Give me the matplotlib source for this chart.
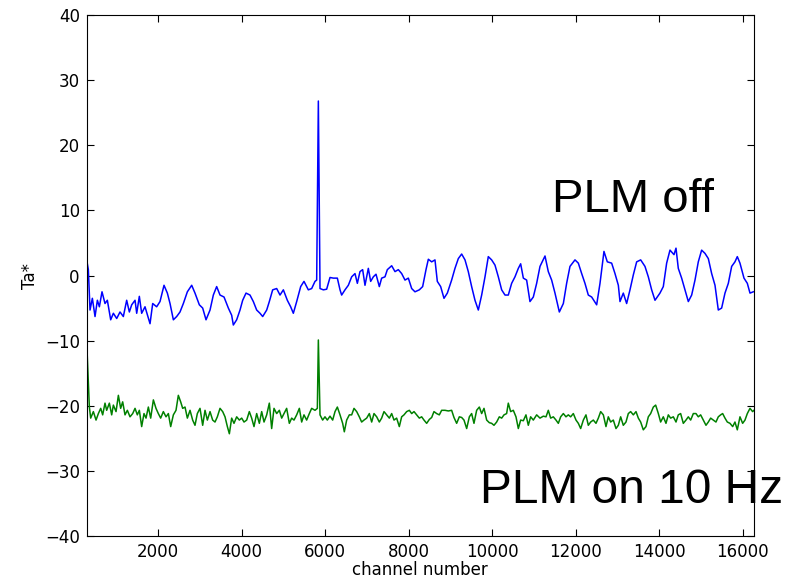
import matplotlib
matplotlib.use("Agg")
import matplotlib.pyplot as plt

# PLM off spectrum (blue)
blue_ch = [300, 332, 372, 428, 492, 548, 596, 659, 731, 787, 867, 931, 1011, 1090, 1170,
           1250, 1314, 1370, 1450, 1490, 1553, 1609, 1689, 1809, 1873, 1968, 2048, 2144,
           2224, 2288, 2368, 2447, 2527, 2607, 2703, 2807, 2886, 2990, 3070, 3150, 3246,
           3325, 3405, 3485, 3581, 3685, 3764, 3804, 3884, 3964, 4028, 4108, 4203, 4283,
           4363, 4443, 4507, 4603, 4666, 4746, 4842, 4922, 5002, 5097, 5177, 5241, 5321,
           5417, 5496, 5600, 5680, 5760, 5800, 5840, 5880, 5960, 6039, 6119, 6199, 6295,
           6359, 6398, 6478, 6558, 6638, 6718, 6774, 6837, 6901, 6957, 7037, 7093, 7157,
           7221, 7300, 7356, 7436, 7492, 7596, 7676, 7755, 7835, 7915, 7995, 8075, 8154,
           8258, 8338, 8418, 8474, 8554, 8633, 8689, 8769, 8849, 8929, 9032, 9112, 9192,
           9272, 9352, 9431, 9511, 9591, 9671, 9751, 9831, 9910, 9990, 10070, 10150, 10230,
           10310, 10389, 10469, 10549, 10629, 10685, 10749, 10828, 10908, 10988, 11068,
           11148, 11268, 11347, 11427, 11507, 11611, 11707, 11786, 11866, 11986, 12066,
           12146, 12225, 12305, 12385, 12505, 12585, 12680, 12760, 12864, 12944, 13024,
           13064, 13143, 13223, 13303, 13383, 13463, 13559, 13662, 13742, 13822, 13902,
           14021, 14101, 14181, 14261, 14357, 14405, 14460, 14540, 14620, 14700, 14780,
           14860, 14939, 15019, 15099, 15179, 15259, 15339, 15418, 15498, 15578, 15658,
           15738, 15817, 15873, 15937, 16033, 16113, 16177, 16256]
blue_ta = [2.1, 0.9, -5.3, -3.5, -6.3, -3.8, -4.8, -2.5, -4.3, -3.8, -6.8, -5.8, -6.6, -5.6, -6.3,
           -3.8, -5.6, -4.5, -3.8, -5.8, -3.2, -5.8, -4.8, -7.4, -4.3, -4.8, -4.0, -1.5,
           -2.7, -4.3, -6.8, -6.3, -5.6, -4.3, -2.5, -1.5, -2.7, -4.5, -5.0, -6.8, -5.3,
           -3.0, -1.7, -3.0, -3.3, -5.0, -6.1, -7.6, -6.8, -5.3, -3.8, -2.7, -3.0, -4.0,
           -5.3, -5.8, -6.3, -5.3, -4.0, -2.2, -2.0, -3.0, -2.2, -3.8, -4.8, -5.8, -4.0,
           -1.7, -0.9, -2.2, -2.0, -0.9, -0.7, 26.8, -2.0, -2.2, -2.1, -0.3, -0.4, -0.4,
           -2.2, -3.0, -2.2, -1.5, -0.2, 0.3, -1.2, 0.6, 0.9, -1.5, 1.1, -0.9, -0.2,
           0.2, -1.7, -0.4, -0.2, 0.9, 1.5, 0.6, 0.9, 0.3, -0.7, -0.4, -2.0, -2.5,
           -2.2, -1.7, 0.9, 2.5, 2.1, 2.4, -0.9, -1.7, -3.5, -2.7, -0.7, 1.1, 2.6,
           3.3, 2.4, 0.6, -1.7, -3.8, -5.3, -3.0, -0.2, 2.9, 2.4, 1.6, -0.2, -2.2,
           -3.0, -3.0, -1.2, -0.2, 1.1, 1.8, -0.4, -0.7, -4.0, -3.3, -1.2,
           1.4, 3.0, 0.6, -0.7, -2.7, -5.6, -4.3, -1.2, 1.4, 2.4, 1.9,
           0.3, -1.2, -3.0, -3.3, -4.5, -1.2, 3.7, 2.1, 1.9, 0.3, -1.5,
           -4.0, -2.7, -4.3, -2.2, 0.1, 2.1, 2.4, 1.4, -0.2, -2.2, -3.8,
           -2.7, -1.7, 1.9, 3.9, 3.2, 4.2, 1.1, -0.4, -2.2, -4.0, -3.0,
           -0.7, 2.1, 3.9, 3.4, 2.6, 0.3, -1.5, -5.3, -5.0, -2.7, -1.2,
           1.4, 2.1, 2.9, 1.9, -0.4, -1.2, -2.7, -2.5]

# PLM on 10 Hz spectrum (green)
green_ch = [300, 356, 388, 452, 516, 572, 628, 675, 731, 771, 835, 891, 931, 995, 1051, 1106,
            1154, 1210, 1266, 1330, 1394, 1450, 1505, 1553, 1609, 1665, 1713, 1769, 1825,
            1889, 1952, 2008, 2064, 2128, 2192, 2248, 2304, 2368, 2431, 2487, 2543, 2591,
            2647, 2703, 2767, 2830, 2886, 2942, 3006, 3070, 3126, 3182, 3246, 3309, 3365,
            3421, 3485, 3549, 3605, 3661, 3709, 3764, 3820, 3884, 3948, 4004, 4060, 4124,
            4187, 4243, 4299, 4363, 4427, 4483, 4539, 4603, 4666, 4722, 4778, 4842, 4906,
            4962, 5018, 5081, 5145, 5201, 5257, 5321, 5385, 5441, 5496, 5560, 5624, 5680,
            5760, 5816, 5840, 5880, 5943, 5999, 6055, 6119, 6183, 6239, 6295, 6359, 6422,
            6462, 6518, 6582, 6638, 6694, 6758, 6821, 6877, 6933, 6997, 7061, 7117, 7173,
            7237, 7300, 7356, 7412, 7476, 7540, 7596, 7652, 7715, 7779, 7835, 7891, 7955,
            8019, 8075, 8131, 8194, 8258, 8314, 8370, 8434, 8498, 8554, 8609, 8673, 8737,
            8793, 8873, 8953, 9032, 9088, 9152, 9216, 9272, 9328, 9392, 9456, 9511, 9567,
            9631, 9695, 9751, 9807, 9871, 9934, 9990, 10046, 10110, 10174, 10230, 10286,
            10349, 10389, 10445, 10509, 10573, 10629, 10685, 10749, 10812, 10868, 10924,
            10988, 11068, 11148, 11228, 11292, 11347, 11403, 11467, 11531, 11587, 11643,
            11707, 11770, 11826, 11882, 11946, 12010, 12066, 12122, 12186, 12249, 12305,
            12361, 12425, 12489, 12545, 12601, 12665, 12728, 12784, 12840, 12904, 12968,
            13024, 13080, 13143, 13207, 13263, 13319, 13383, 13447, 13503, 13559, 13622,
            13686, 13742, 13798, 13862, 13918, 13982, 14037, 14101, 14165, 14221, 14277,
            14341, 14405, 14460, 14516, 14580, 14644, 14700, 14756, 14820, 14883, 14939,
            14995, 15059, 15123, 15179, 15235, 15299, 15362, 15418, 15474, 15522, 15578,
            15634, 15698, 15762, 15817, 15873, 15937, 16001, 16057, 16113, 16177, 16240, 16272]
green_ta = [-11.4, -20.2, -21.9, -20.9, -22.2, -21.2, -20.4, -21.4, -19.6, -20.7, -19.6, -21.4, -19.9, -20.9, -18.4, -20.4,
            -19.4, -21.4, -20.7, -21.7, -21.2, -20.4, -21.4, -20.7, -23.2, -21.2, -21.9, -20.2, -21.9,
            -19.1, -20.4, -21.2, -21.9, -20.9, -21.7, -21.2, -23.2, -21.4, -20.7, -18.4, -19.4, -20.4,
            -20.2, -21.9, -20.7, -22.2, -23.0, -21.2, -20.4, -23.0, -20.7, -22.2, -20.9, -22.2, -22.5,
            -21.7, -20.4, -20.9, -21.7, -23.2, -24.3, -21.9, -22.7, -21.7, -22.2, -21.9, -22.5, -22.2,
            -20.9, -21.9, -23.2, -21.2, -22.7, -20.9, -22.5, -21.4, -19.6, -23.5, -20.4, -21.2, -20.7,
            -21.9, -21.2, -20.4, -22.7, -21.9, -22.2, -21.4, -20.4, -22.5, -21.4, -22.2, -21.2, -20.4,
            -20.7, -20.4, -9.9, -21.4, -22.2, -21.7, -22.2, -21.6, -22.2, -20.9, -20.2, -21.4, -22.7,
            -24.0, -22.2, -21.4, -21.4, -20.4, -20.9, -21.7, -22.5, -22.2, -21.9, -21.2, -22.5, -21.2,
            -21.7, -22.5, -21.9, -20.9, -21.4, -21.9, -21.2, -22.2, -21.9, -23.2, -21.7, -21.4, -20.9,
            -20.7, -21.2, -20.9, -21.4, -21.9, -21.7, -22.2, -22.7, -22.1, -21.8, -20.9, -21.2, -21.4,
            -20.7, -20.7, -20.8, -20.7, -21.8, -22.7, -21.7, -21.8, -22.2, -23.5, -21.7, -21.2, -22.7,
            -20.7, -20.2, -21.2, -20.4, -22.2, -22.6, -22.7, -23.0, -22.5, -21.7, -21.9, -21.4,
            -21.2, -19.6, -20.9, -20.7, -21.7, -23.5, -22.2, -22.3, -21.4, -23.0, -21.7,
            -22.2, -21.4, -21.9, -21.6, -21.7, -20.7, -21.9, -21.7, -22.2, -22.7, -21.7,
            -21.2, -21.7, -21.4, -21.7, -21.2, -22.2, -22.7, -23.5, -22.2, -21.4, -23.0,
            -22.5, -22.2, -22.7, -21.9, -20.9, -21.4, -23.2, -21.7, -22.5, -22.2, -23.5,
            -23.0, -21.7, -23.0, -22.5, -21.2, -20.9, -21.4, -20.9, -21.9, -22.5, -23.7,
            -23.2, -21.7, -21.2, -20.2, -19.9, -21.2, -22.5, -21.7, -22.7, -21.4, -21.9,
            -21.7, -22.5, -21.4, -21.2, -22.7, -22.2, -21.7, -22.2, -21.2, -21.2, -21.7,
            -21.4, -22.2, -23.0, -22.5, -21.9, -22.2, -22.5, -21.7, -21.4, -21.2, -21.9,
            -22.5, -22.7, -23.2, -22.5, -23.7, -21.7, -22.7, -22.2, -21.2, -20.4, -20.9, -20.7]

fig = plt.figure(figsize=(8, 5.79), dpi=100)
ax = fig.add_axes([0.1084, 0.0743, 0.834, 0.8997])

ax.plot(blue_ch, blue_ta, color='blue', lw=1.1)
ax.plot(green_ch, green_ta, color='green', lw=1.1)

ax.set_xlim(293, 16271)
ax.set_ylim(-40, 40)
ax.set_xticks([2000, 4000, 6000, 8000, 10000, 12000, 14000, 16000])
ax.set_yticks(range(-40, 41, 10))
ax.tick_params(direction='in', top=True, right=True, length=5, labelsize=12, pad=5)
ax.set_xlabel('channel number', fontsize=12, labelpad=0)
ax.set_ylabel('Ta*', fontsize=12)

ax.text(11435, 9.8, 'PLM off', fontsize=34, family='Liberation Sans',
        ha='left', va='baseline', zorder=2)
ax.text(9700, -34.9, 'PLM on 10 Hz', fontsize=34.5, family='Liberation Sans',
        ha='left', va='baseline', zorder=2)

fig.savefig('out.png', dpi=100)
